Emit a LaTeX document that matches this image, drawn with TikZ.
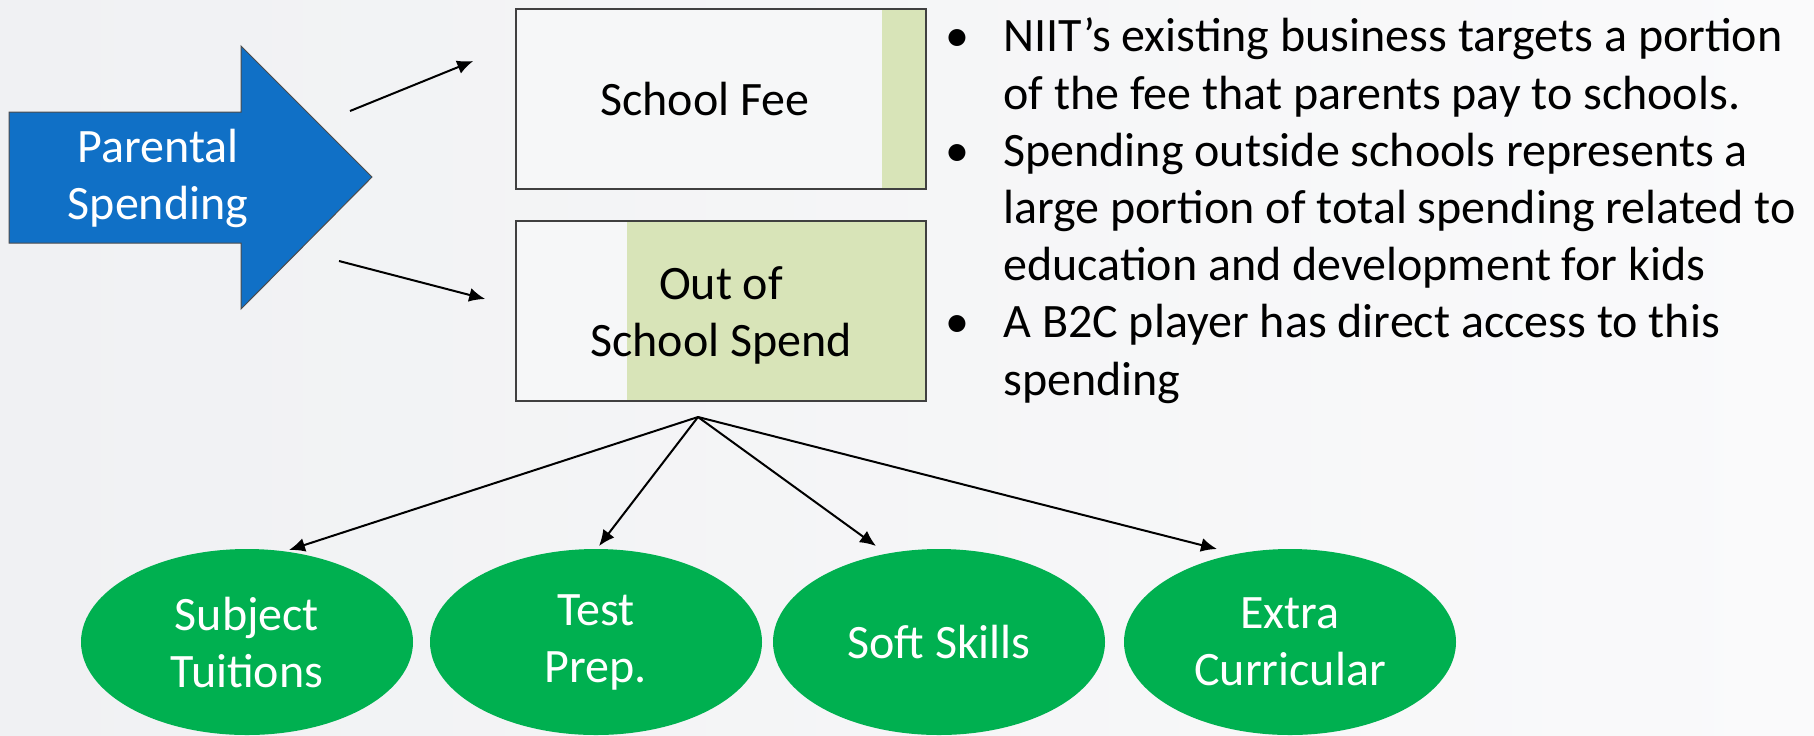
\documentclass[tikz,border=0pt]{standalone}
\usepackage{fontspec}
\setmainfont{Carlito}
\usetikzlibrary{arrows.meta,calc,shapes.geometric}

\definecolor{spendblue}{RGB}{16,112,198}
\definecolor{sharegreen}{RGB}{216,228,184}
\definecolor{kidgreen}{RGB}{0,176,80}
\definecolor{boxwhite}{RGB}{246,247,248}
\definecolor{bgleft}{RGB}{240,241,243}
\definecolor{bgright}{RGB}{250,250,251}
\newcommand{\bul}{\makebox[29pt][l]{•}}
\newcommand{\ind}{\hspace*{29pt}}

\begin{document}
\begin{tikzpicture}[x=0.5pt,y=-0.5pt,>={Latex[length=8pt,width=7pt]},
  link/.style={->,line width=1pt},
  spendbox/.style={draw=black!75,line width=0.8pt,fill=boxwhite,
    minimum width=205pt,minimum height=90pt,inner sep=0pt},
  boxtext/.style={font=\fontsize{24}{28.5}\selectfont,align=center},
  kid/.style={ellipse,fill=kidgreen,text=white,minimum width=166pt,
    minimum height=93pt,inner sep=0pt,align=center,
    font=\fontsize{24}{28.5}\selectfont},
  notes/.style={font=\fontsize{24}{28.6}\selectfont,align=left,inner sep=0pt}]

  \useasboundingbox (0,0) rectangle (1814,735);
  \shade[left color=bgleft,right color=bgright] (0,0) rectangle (1814,735);

  % parental spending arrow
  \filldraw[fill=spendblue,draw=black!70,line width=0.5pt]
    (9,112) -- (241,112) -- (241,46) -- (372,177) -- (241,309)
    -- (241,243) -- (9,243) -- cycle;
  \node[boxtext,text=white] (parent) at (158,178) {Parental\\Spending};

  % the two spends
  \node[spendbox,path picture={\fill[sharegreen]
      ([xshift=-22pt]path picture bounding box.north east)
      rectangle (path picture bounding box.south east);}] (fee) at (721,99) {};
  \node[spendbox,path picture={\fill[sharegreen]
      ([xshift=-149.5pt]path picture bounding box.north east)
      rectangle (path picture bounding box.south east);}] (out) at (721,311) {};
  \node[boxtext] (feetext) at ($(fee)+(-16,0)$) {School Fee};
  \node[boxtext] (outtext) at ($(out)+(0,4)$) {Out of\\School Spend};

  \coordinate (ps1) at (350,111);
  \coordinate (ps2) at (339,261);
  \path[link] (ps1) edge ([shift={(-42,-38)}]fee.west)
              (ps2) edge ([shift={(-30,-12)}]out.west);

  % kinds of out of school spend
  \node[kid] (st) at (247,642) {Subject\\Tuitions};
  \node[kid] (tp) at (596,642) {Test\\Prep.};
  \node[kid] (ss) at (939,642) {Soft Skills};
  \node[kid] (ec) at (1290,642) {Extra\\Curricular};

  \coordinate (hub) at (698,417);
  \path[link] (hub) edge ([shift={(42,-92)}]st.center)
                    edge ([shift={(3,-96)}]tp.center)
                    edge ([shift={(-63,-96)}]ss.center)
                    edge ([shift={(-73,-93)}]ec.center);

  % bullet points
  \node[notes,anchor=base west] (notes) at (945,395)
    {\bul NIIT’s existing business targets a portion\\
     \ind of the fee that parents pay to schools.\\
     \bul Spending outside schools represents a\\
     \ind large portion of total spending related to\\
     \ind education and development for kids\\
     \bul A B2C player has direct access to this\\
     \ind spending};
\end{tikzpicture}
\end{document}
